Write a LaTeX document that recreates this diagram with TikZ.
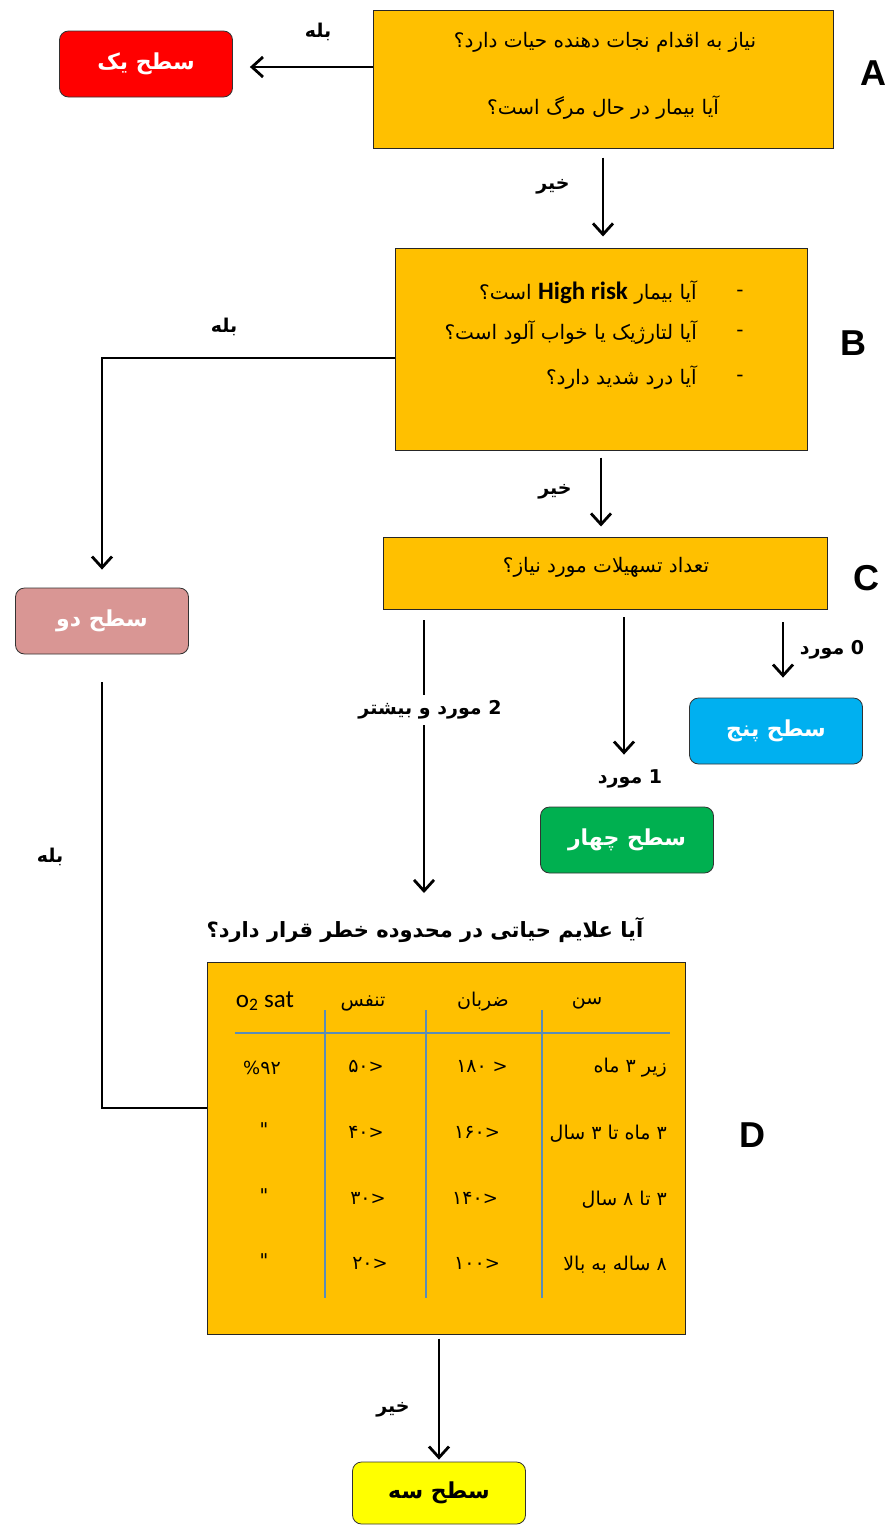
\documentclass[tikz,border=0pt]{standalone}
\usepackage{fontspec}
\setmainfont{Liberation Sans}
\newfontfamily\fa[Script=Arabic]{DejaVu Sans}
\newfontfamily\lat{Carlito}
\TeXXeTstate=1
\usetikzlibrary{arrows.meta}
\definecolor{qorange}{HTML}{FFC000}
\definecolor{lvlred}{HTML}{FF0000}
\definecolor{lvlpink}{HTML}{D99694}
\definecolor{lvlblue}{HTML}{00B0F0}
\definecolor{lvlgreen}{HTML}{00B050}
\definecolor{lvlyellow}{HTML}{FFFF00}
\definecolor{tline}{HTML}{5B8DB8}
\newcommand\rtltext[1]{\beginR #1\endR}
\newcommand\ltnum[2]{\hbox{\fa #1}\hbox{\fontsize{18}{20}\selectfont #2}}
\tikzset{
  qbox/.style={draw=black!85, fill=qorange, line width=1pt, inner sep=0pt},
  lvl/.style={draw=black!80, line width=0.8pt, rounded corners=9pt, minimum width=173pt, minimum height=66pt, inner sep=0pt, font=\fa\bfseries\fontsize{22}{26}\selectfont, text=white},
  qtxt/.style={font=\fa\fontsize{20}{24}\selectfont, inner sep=0pt},
  lbl/.style={font=\fa\bfseries\fontsize{19}{22}\selectfont, inner sep=1pt},
  bigl/.style={font=\bfseries\fontsize{36}{40}\selectfont, inner sep=0pt},
  ttxt/.style={font=\fa\fontsize{19}{22}\selectfont, inner sep=0pt},
  arr/.style={line width=2.8pt, -{Straight Barb[length=11pt,width=20pt,line width=2.8pt]}},
  conn/.style={line width=2.8pt},
  tl/.style={draw=tline, line width=1.2pt}
}
\begin{document}
\begin{tikzpicture}[x=1pt,y=-1pt]
\useasboundingbox[fill=white] (0,0) rectangle (893,1526);
% boxes
\node[qbox, minimum width=460pt, minimum height=138pt] (A) at (603,79) {};
\node[qbox, minimum width=412pt, minimum height=202pt] (B) at (601,349) {};
\node[qbox, minimum width=444pt, minimum height=72pt] (C) at (605,573) {};
\node[qbox, minimum width=478pt, minimum height=372pt] (D) at (446,1148) {};
% level boxes
\node[lvl, fill=lvlred] (L1) at (146,64) {\rtltext{سطح یک}};
\node[lvl, fill=lvlpink] (L2) at (102,621) {\rtltext{سطح دو}};
\node[lvl, fill=lvlblue] (L5) at (776,731) {\rtltext{سطح پنج}};
\node[lvl, fill=lvlgreen] (L4) at (627,840) {\rtltext{سطح چهار}};
\node[lvl, fill=lvlyellow, text=black, minimum height=62pt] (L3) at (439,1493) {\rtltext{سطح سه}};
% A text
\node[qtxt] (a1) at (605,42) {\rtltext{نیاز به اقدام نجات دهنده حیات دارد؟}};
\node[qtxt] (a2) at (603,108) {\rtltext{آیا بیمار در حال مرگ است؟}};
% B text
\node[qtxt, anchor=east] (b1) at (697,293) {\rtltext{آیا بیمار \beginL{\lat\bfseries\fontsize{25}{27}\selectfont High risk}\endL{} است؟}};
\node[qtxt, anchor=east] (b2) at (697,333) {\rtltext{آیا لتارژیک یا خواب آلود است؟}};
\node[qtxt, anchor=east] (b3) at (697,378) {\rtltext{آیا درد شدید دارد؟}};
\node[qtxt] (bd1) at (740,293) {-};
\node[qtxt] (bd2) at (740,333) {-};
\node[qtxt] (bd3) at (740,378) {-};
% C text
\node[qtxt] (c1) at (606,567) {\rtltext{تعداد تسهیلات مورد نیاز؟}};
% D question
\node[lbl, font=\fa\bfseries\fontsize{21}{24}\selectfont] (dq) at (425,930) {\rtltext{آیا علایم حیاتی در محدوده خطر قرار دارد؟}};
% big letters
\node[bigl] (LA) at (873,73) {A};
\node[bigl] (LB) at (853,343) {B};
\node[bigl] (LC) at (866,578) {C};
\node[bigl] (LD) at (752,1135) {D};
% table
\draw[tl] (235,1033) -- (670,1033);
\draw[tl] (325,1010) -- (325,1298);
\draw[tl] (426,1010) -- (426,1298);
\draw[tl] (542,1010) -- (542,1298);
\node[ttxt] (h1) at (587,1003) {\rtltext{سن}};
\node[ttxt] (h2) at (483,1002) {\rtltext{ضربان}};
\node[ttxt] (h3) at (363,1003) {\rtltext{تنفس}};
\node[inner sep=0pt, font=\lat\fontsize{25}{28}\selectfont] (h4) at (265,1001) {o\textsubscript{2} sat};
\node[ttxt, anchor=east] (r1a) at (667,1068) {\rtltext{زیر ۳ ماه}};
\node[ttxt, anchor=east] (r2a) at (667,1134) {\rtltext{۳ ماه تا ۳ سال}};
\node[ttxt, anchor=east] (r3a) at (667,1200) {\rtltext{۳ تا ۸ سال}};
\node[ttxt, anchor=east] (r4a) at (667,1265) {\rtltext{۸ ساله به بالا}};
\node[ttxt] (r1b) at (482,1066) {\ltnum{۱۸۰}{\ <}};
\node[ttxt] (r2b) at (477,1132) {\ltnum{۱۶۰}{<}};
\node[ttxt] (r3b) at (475,1198) {\ltnum{۱۴۰}{<}};
\node[ttxt] (r4b) at (477,1263) {\ltnum{۱۰۰}{<}};
\node[ttxt] (r1c) at (366,1066) {\ltnum{۵۰}{<}};
\node[ttxt] (r2c) at (366,1132) {\ltnum{۴۰}{<}};
\node[ttxt] (r3c) at (368,1198) {\ltnum{۳۰}{<}};
\node[ttxt] (r4c) at (370,1263) {\ltnum{۲۰}{<}};
\node[ttxt] (r1d) at (262,1068) {\hbox{\fontsize{18}{20}\selectfont\%}\hbox{\fa ۹۲}};
\node[ttxt] (r2d) at (264,1130) {"};
\node[ttxt] (r3d) at (264,1196) {"};
\node[ttxt] (r4d) at (264,1261) {"};
% connectors
\draw[arr, shorten >=17pt] ([yshift=12pt]A.west) -- ([yshift=12pt]A.west -| L1.east);
\draw[arr, shorten <=9pt, shorten >=11pt] (A.south) -- (A.south |- B.north);
\draw[arr, shorten >=18pt] ([yshift=-9pt]B.west) -| (L2.north);
\draw[arr, shorten <=7pt, shorten >=10pt] (B.south) -- (B.south |- C.north);
\coordinate (c0) at (783,622);
\coordinate (c1s) at (624,617);
\coordinate (c2s) at (424,620);
\coordinate (dqtop) at (424,893);
\draw[arr, shorten >=20pt] (c0) -- (c0 |- L5.north);
\draw[arr, shorten >=52pt] (c1s) -- (c1s |- L4.north);
\draw[arr] (c2s) -- (dqtop);
\draw[conn, shorten <=28pt] (L2.south) |- ([yshift=40pt]D.west);
\draw[arr, shorten <=4pt, shorten >=2pt] (L3 |- D.south) -- (L3.north);
% labels
\node[lbl] (y1) at (318,32) {\rtltext{بله}};
\node[lbl] (n1) at (553,187) {\rtltext{خیر}};
\node[lbl] (y2) at (224,327) {\rtltext{بله}};
\node[lbl] (n2) at (555,492) {\rtltext{خیر}};
\node[lbl] (z0) at (832,650) {\rtltext{0 مورد}};
\node[lbl] (z1) at (630,779) {\rtltext{1 مورد}};
\node[lbl, fill=white, inner ysep=6pt] (z2) at (430,710) {\rtltext{2 مورد و بیشتر}};
\node[lbl] (y3) at (50,857) {\rtltext{بله}};
\node[lbl] (n3) at (393,1410) {\rtltext{خیر}};
\end{tikzpicture}
\end{document}
